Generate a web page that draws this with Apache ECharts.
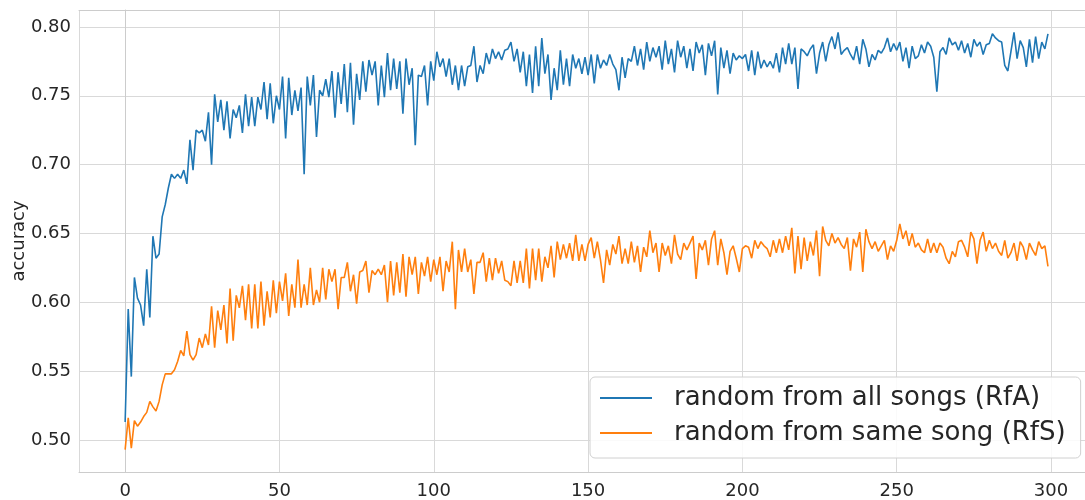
<!DOCTYPE html>
<html>
<head>
<meta charset="utf-8">
<script src="https://cdn.jsdelivr.net/npm/echarts@6/dist/echarts.min.js"></script>
<style>
html,body{margin:0;padding:0;background:#fff;}
#chart{width:1085px;height:500px;}
</style>
</head>
<body>
<div id="chart"></div>
<script>
const seriesNames = ['random from all songs (RfA)', 'random from same song (RfS)'];
const yAxisTitle = 'accuracy';

const rfa = [
0.513,0.595,0.546,0.618,0.603,0.598,0.583,0.624,0.589,0.648,
0.632,0.635,0.662,0.671,0.683,0.693,0.690,0.693,0.690,0.696,
0.686,0.718,0.696,0.725,0.723,0.725,0.717,0.738,0.700,0.751,
0.731,0.747,0.725,0.746,0.719,0.740,0.734,0.743,0.723,0.751,
0.728,0.749,0.728,0.749,0.740,0.760,0.733,0.759,0.730,0.750,
0.740,0.764,0.719,0.763,0.736,0.754,0.739,0.756,0.693,0.764,
0.743,0.765,0.720,0.754,0.750,0.762,0.749,0.768,0.734,0.767,
0.744,0.773,0.738,0.774,0.729,0.766,0.747,0.775,0.753,0.776,
0.765,0.775,0.743,0.772,0.749,0.781,0.754,0.777,0.755,0.775,
0.737,0.777,0.758,0.770,0.714,0.765,0.764,0.772,0.743,0.775,
0.761,0.782,0.771,0.777,0.764,0.777,0.758,0.772,0.754,0.772,
0.757,0.771,0.772,0.786,0.760,0.772,0.766,0.781,0.773,0.784,
0.777,0.782,0.776,0.783,0.784,0.789,0.775,0.784,0.767,0.782,
0.757,0.780,0.752,0.786,0.757,0.792,0.766,0.780,0.747,0.770,
0.754,0.783,0.758,0.777,0.757,0.780,0.770,0.777,0.766,0.778,
0.765,0.780,0.759,0.780,0.770,0.776,0.772,0.780,0.773,0.769,
0.754,0.778,0.763,0.777,0.775,0.786,0.772,0.784,0.769,0.789,
0.775,0.785,0.778,0.786,0.769,0.790,0.773,0.784,0.767,0.790,
0.778,0.786,0.770,0.784,0.768,0.789,0.781,0.787,0.765,0.788,
0.779,0.790,0.751,0.785,0.770,0.783,0.766,0.781,0.776,0.779,
0.777,0.780,0.768,0.783,0.765,0.782,0.770,0.776,0.771,0.775,
0.770,0.781,0.767,0.785,0.773,0.788,0.773,0.785,0.755,0.784,
0.782,0.779,0.784,0.787,0.766,0.781,0.789,0.775,0.787,0.793,
0.784,0.796,0.780,0.783,0.785,0.780,0.776,0.786,0.773,0.791,
0.784,0.771,0.780,0.776,0.783,0.781,0.785,0.792,0.782,0.788,
0.783,0.789,0.775,0.785,0.770,0.786,0.777,0.779,0.787,0.781,
0.789,0.786,0.778,0.753,0.782,0.785,0.780,0.792,0.787,0.789,
0.783,0.790,0.781,0.788,0.778,0.791,0.786,0.789,0.780,0.787,
0.788,0.795,0.792,0.790,0.789,0.772,0.768,0.782,0.796,0.777,
0.790,0.785,0.771,0.791,0.774,0.793,0.777,0.789,0.784,0.795
];

const rfs = [
0.493,0.516,0.494,0.514,0.510,0.513,0.517,0.520,0.528,0.524,
0.521,0.528,0.540,0.548,0.548,0.548,0.551,0.557,0.565,0.561,
0.579,0.562,0.558,0.562,0.574,0.567,0.577,0.569,0.597,0.567,
0.594,0.580,0.598,0.570,0.610,0.572,0.605,0.596,0.612,0.587,
0.613,0.581,0.613,0.581,0.615,0.583,0.608,0.589,0.616,0.592,
0.615,0.601,0.621,0.590,0.613,0.596,0.631,0.596,0.613,0.598,
0.625,0.598,0.609,0.600,0.625,0.602,0.624,0.615,0.624,0.595,
0.618,0.618,0.629,0.608,0.620,0.599,0.622,0.623,0.630,0.607,
0.623,0.620,0.624,0.620,0.627,0.600,0.630,0.605,0.629,0.607,
0.635,0.604,0.633,0.620,0.633,0.606,0.629,0.619,0.633,0.615,
0.631,0.620,0.633,0.608,0.630,0.622,0.644,0.595,0.638,0.622,
0.639,0.622,0.631,0.606,0.629,0.629,0.636,0.615,0.632,0.616,
0.632,0.621,0.630,0.616,0.615,0.612,0.630,0.614,0.630,0.614,
0.639,0.610,0.639,0.616,0.639,0.615,0.633,0.625,0.641,0.618,
0.644,0.631,0.642,0.632,0.643,0.630,0.649,0.630,0.642,0.630,
0.642,0.647,0.632,0.644,0.631,0.614,0.638,0.627,0.642,0.635,
0.648,0.628,0.639,0.628,0.644,0.629,0.641,0.622,0.640,0.633,
0.652,0.636,0.643,0.622,0.643,0.634,0.641,0.628,0.649,0.635,
0.631,0.643,0.638,0.643,0.648,0.617,0.643,0.638,0.645,0.627,
0.646,0.652,0.627,0.646,0.636,0.620,0.637,0.641,0.632,0.622,
0.639,0.641,0.640,0.632,0.645,0.639,0.644,0.641,0.639,0.633,
0.645,0.636,0.646,0.636,0.648,0.638,0.654,0.621,0.648,0.624,
0.647,0.630,0.644,0.634,0.652,0.619,0.655,0.645,0.641,0.650,
0.643,0.647,0.642,0.639,0.647,0.623,0.646,0.640,0.651,0.622,
0.653,0.644,0.639,0.644,0.637,0.641,0.645,0.631,0.641,0.637,
0.645,0.657,0.646,0.652,0.641,0.650,0.640,0.643,0.638,0.636,
0.646,0.636,0.643,0.636,0.643,0.640,0.632,0.628,0.637,0.633,
0.644,0.645,0.640,0.633,0.651,0.646,0.628,0.645,0.651,0.637,
0.645,0.639,0.643,0.637,0.634,0.645,0.632,0.636,0.643,0.630,
0.644,0.640,0.631,0.643,0.638,0.634,0.644,0.639,0.641,0.626
];

const toPairs = arr => arr.map((v, i) => [i, v]);

const chart = echarts.init(document.getElementById('chart'), null, {renderer: 'canvas'});
const font = 'DejaVu Sans';
const txt = '#262626';
const frame = '#cccccc';
const isMult = (v, s) => Math.abs(v / s - Math.round(v / s)) < 1e-6;

chart.setOption({
  animation: false,
  backgroundColor: '#ffffff',
  grid: {
    left: 79, top: 10, right: 0, bottom: 28,
    outerBoundsMode: 'none',
    containLabel: false,
    show: false
  },
  xAxis: [{
    type: 'value',
    min: -14.95, max: 311,
    splitNumber: 6,
    axisLine: {show: true, lineStyle: {color: frame, width: 1}},
    axisTick: {show: false},
    splitLine: {show: true, lineStyle: {color: '#d9d9d9', width: 1}},
    axisLabel: {
      color: txt, fontFamily: font, fontSize: 18, margin: 10,
      showMinLabel: false, showMaxLabel: false,
      formatter: v => isMult(v, 50) ? String(Math.round(v)) : ''
    }
  }, {
    type: 'value', position: 'top',
    min: -14.95, max: 311,
    axisLine: {show: true, lineStyle: {color: frame, width: 1}},
    axisTick: {show: false},
    axisLabel: {show: false},
    splitLine: {show: false}
  }],
  yAxis: {
    type: 'value',
    min: 0.4767, max: 0.8123,
    splitNumber: 6,
    name: yAxisTitle,
    nameLocation: 'middle',
    nameRotate: 90,
    nameGap: 51,
    nameMoveOverlap: false,
    nameTextStyle: {color: txt, fontFamily: font, fontSize: 18},
    axisLine: {show: true, lineStyle: {color: frame, width: 1}},
    axisTick: {show: false},
    splitLine: {show: true, lineStyle: {color: '#d9d9d9', width: 1}},
    axisLabel: {
      color: txt, fontFamily: font, fontSize: 18, margin: 8,
      showMinLabel: false, showMaxLabel: false,
      formatter: v => isMult(v, 0.05) ? v.toFixed(2) : ''
    }
  },
  legend: {
    orient: 'vertical',
    left: 590, top: 377,
    padding: [6, 15, 10, 10],
    itemGap: 5,
    itemWidth: 52,
    itemHeight: 2,
    icon: 'rect',
    backgroundColor: 'rgba(255,255,255,0.85)',
    borderColor: '#d0d0d0',
    borderWidth: 1,
    borderRadius: 5,
    textStyle: {color: txt, fontFamily: font, fontSize: 26, lineHeight: 30, padding: [0, 0, 0, 17]},
    data: seriesNames
  },
  series: [
    {
      name: seriesNames[0], type: 'line', data: toPairs(rfa),
      showSymbol: false, symbol: 'none',
      lineStyle: {color: '#1f77b4', width: 1.6},
      itemStyle: {color: '#1f77b4'}
    },
    {
      name: seriesNames[1], type: 'line', data: toPairs(rfs),
      showSymbol: false, symbol: 'none',
      lineStyle: {color: '#ff7f0e', width: 1.6},
      itemStyle: {color: '#ff7f0e'}
    }
  ]
});
</script>
</body>
</html>
